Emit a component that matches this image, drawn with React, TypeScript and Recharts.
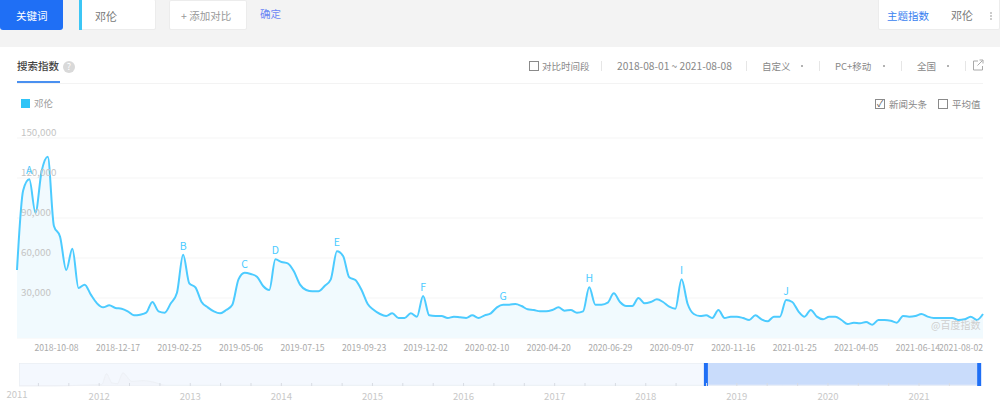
import React from 'react';
import { AreaChart, Area, XAxis, YAxis, CartesianGrid, LabelList, ReferenceArea, ReferenceLine } from 'recharts';

const FONT = '"Noto Sans CJK SC", "Noto Sans", sans-serif';

// weekly search index, in thousands
const seriesValues = [
  51, 110.7, 119, 94, 125, 136, 84, 76, 51, 67, 37.5, 40, 32.5, 26, 23, 24.5, 22.5, 22, 20, 17,
  17.5, 19, 27, 20, 19, 26, 34, 62.5, 41, 38, 27, 23, 20, 18.5, 21, 25, 44, 49, 48, 46,
  39, 36, 59, 57, 56, 50, 40, 36, 35, 35, 39, 44, 65, 61.5, 45.5, 43.5, 36, 25.5, 21, 18,
  16.5, 18.5, 15, 15, 18.5, 16, 31.5, 17, 16.5, 16.5, 15, 16, 15.5, 15, 17, 15, 17, 18.5, 23, 25,
  25, 25.5, 24, 21.5, 21, 20, 20, 21, 23, 20.5, 21, 19, 20, 38, 25, 25, 26.5, 33.5, 27, 24,
  24, 30, 26, 27, 29, 27, 23.5, 22, 44, 25.5, 18, 16.5, 17, 15, 21, 15, 16, 16, 15, 13.5,
  17, 14, 12.5, 16, 16, 28.5, 27, 20, 16, 21, 16, 14, 16, 16, 13.5, 10.5, 11.5, 11, 12, 10,
  13.5, 13.5, 13, 11.5, 16.5, 16, 16.5, 18, 16, 15, 15, 15, 15, 13.5, 14, 16, 13.5, 18,
];

const weekDates = seriesValues.map((_, i) =>
  new Date(Date.UTC(2018, 6, 30 + i * 7)).toISOString().slice(0, 10)
);

const xTicks = [
  '2018-10-08', '2018-12-17', '2019-02-25', '2019-05-06', '2019-07-15', '2019-09-23', '2019-12-02', '2020-02-10',
  '2020-04-20', '2020-06-29', '2020-09-07', '2020-11-16', '2021-01-25', '2021-04-05', '2021-06-14', '2021-08-02',
];
const yTicks = [30000, 60000, 90000, 120000, 150000];

const newsLetters = ['A', 'B', 'C', 'D', 'E', 'F', 'G', 'H', 'I', 'J'];
const newsDates = [
  '2018-08-13', '2019-02-04', '2019-04-15', '2019-05-20', '2019-07-29',
  '2019-11-04', '2020-02-03', '2020-05-11', '2020-08-24', '2020-12-21',
];

// overview strip under the chart
const overviewYears = [
  2011.12, 2011.5, 2011.8, 2011.95, 2012.03, 2012.08, 2012.14, 2012.2, 2012.26, 2012.36, 2012.48, 2012.6, 2012.72,
  2013, 2013.4, 2014, 2015, 2016, 2017, 2018, 2018.65, 2019, 2019.5, 2020, 2021, 2021.68,
];
const overviewValues = [
  0, 0, 1, 1.5, 2, 16, 4, 3, 17, 6, 7, 5, 1, 1, 1, 1, 1, 1, 1, 1, 1, 1, 1, 1, 1, 1,
];
const overviewTicks = [
  2011.12, 2011.333, 2011.667, 2012, 2012.333, 2012.667, 2013, 2013.333, 2013.667, 2014, 2014.333, 2014.667,
  2015, 2015.333, 2015.667, 2016, 2016.333, 2016.667, 2017, 2017.333, 2017.667, 2018, 2018.333, 2018.667,
  2019, 2019.333, 2019.667, 2020, 2020.333, 2020.667, 2021, 2021.333,
];

const chartData = weekDates.map((date, i) => {
  const n = newsDates.indexOf(date);
  return { date, value: seriesValues[i] * 1000, news: n >= 0 ? newsLetters[n] : undefined };
});
const overviewData = overviewYears.map((year, i) => ({ year, value: overviewValues[i] }));

const Label = ({ x, y, w, color = '#888', size = 10.5, weight = 400, children }: any) => (
  <div
    style={{
      position: 'absolute', left: x, top: y - 10, height: 20, lineHeight: '20px', width: w,
      color, fontSize: size, fontWeight: weight, whiteSpace: 'nowrap',
    }}
  >
    {children}
  </div>
);

const Box = ({ x, y, w, h, style }: any) => (
  <div style={{ position: 'absolute', left: x, top: y, width: w, height: h, boxSizing: 'border-box', ...style }} />
);

const CheckBox = ({ x, y, checked }: any) => (
  <div
    style={{
      position: 'absolute', left: x, top: y, width: 10, height: 10, boxSizing: 'border-box',
      border: '1px solid #8a8a8a', color: '#555', fontSize: 9, lineHeight: '8px', textAlign: 'center',
    }}
  >
    {checked ? '✓' : ''}
  </div>
);

const Separator = ({ x }: any) => <Box x={x} y={61} w={1} h={10} style={{ background: '#e6e6e6' }} />;
const Dot = ({ x }: any) => <Box x={x} y={65} w={2} h={2} style={{ background: '#999', borderRadius: 1 }} />;

const XTick = ({ x, y, payload }: any) => (
  <text x={x} y={y + 5} textAnchor="end" fontSize={8.6} fill="#aaa" fontFamily={FONT}>
    {payload.value}
  </text>
);

const YTick = ({ y, payload }: any) => (
  <text x={21} y={y - 2} textAnchor="start" fontSize={9.8} fill="#c4c4c4" fontFamily={FONT}>
    {payload.value.toLocaleString('en-US')}
  </text>
);

const OverviewTick = ({ x, y, payload }: any) => {
  const isYear = Number.isInteger(payload.value);
  const first = payload.value === overviewTicks[0];
  return (
    <g>
      {!first && <line x1={x} x2={x} y1={y - 3} y2={y} stroke="#d8dce3" />}
      {(isYear || first) && (
        <text x={first ? x - 2 : x} y={first ? y + 12 : y + 14} textAnchor="middle" fontSize={9.5} fill="#c8c8c8" fontFamily={FONT}>
          {Math.floor(payload.value)}
        </text>
      )}
    </g>
  );
};

const App = () => {
  return (
    <div style={{ position: 'absolute', left: 0, top: 0, width: 1000, height: 417, overflow: 'hidden', background: '#fff', fontFamily: FONT }}>
      <style>{'body{margin:0}'}</style>

      {/* top bar */}
      <Box x={0} y={0} w={1000} h={47} style={{ background: '#f3f3f3' }} />
      <Box x={0} y={-4} w={63} h={34} style={{ background: '#1f6ff5', borderRadius: 3 }} />
      <Label x={16} y={16} color="#fff" size={10.5}>关键词</Label>
      <Box x={79} y={-1} w={77} h={31} style={{ background: '#fff', border: '1px solid #ececec', borderRadius: 2 }} />
      <Box x={79} y={0} w={3} h={30} style={{ background: '#3cc6f5' }} />
      <Label x={95} y={16} color="#777" size={11}>邓伦</Label>
      <Box x={169} y={0} w={78} h={30} style={{ background: '#fff', border: '1px solid #ececec', borderRadius: 2 }} />
      <Label x={181} y={16} color="#999" size={10.5}>+ 添加对比</Label>
      <Label x={260} y={14} color="#6a86f5" size={10.5}>确定</Label>
      <Box x={878} y={-4} w={122} h={34} style={{ background: '#fff', border: '1px solid #ececec', borderRadius: 2 }} />
      <Label x={887} y={16} color="#3a7ff0" size={10.5}>主题指数</Label>
      <Label x={951} y={15} color="#777" size={11}>邓伦</Label>
      <Box x={990} y={12} w={2} h={8} style={{ borderLeft: '2px dotted #ccc' }} />

      {/* tab row */}
      <Label x={17} y={66} color="#444" size={10.5} weight={500}>搜索指数</Label>
      <div style={{ position: 'absolute', left: 63, top: 61, width: 12, height: 12, borderRadius: 6, background: '#d9d9d9', color: '#fff', fontSize: 9, lineHeight: '12px', textAlign: 'center' }}>?</div>
      <Box x={17} y={83} w={966} h={1} style={{ background: '#f3f3f3' }} />
      <Box x={17} y={81} w={43} h={2} style={{ background: '#4a90f0' }} />

      <CheckBox x={529} y={61} />
      <Label x={542} y={66} size={9.5}>对比时间段</Label>
      <Separator x={601} />
      <Label x={617} y={66} size={10.2}>2018-08-01 ~ 2021-08-08</Label>
      <Separator x={746} />
      <Label x={762} y={66} size={9.5}>自定义</Label>
      <Dot x={801} />
      <Separator x={819} />
      <Label x={835} y={66} size={9.5}>PC+移动</Label>
      <Dot x={883} />
      <Separator x={901} />
      <Label x={917} y={66} size={9.5}>全国</Label>
      <Dot x={947} />
      <Separator x={965} />
      <svg style={{ position: 'absolute', left: 972, top: 59 }} width={12} height={12} viewBox="0 0 12 12" fill="none" stroke="#aaa">
        <path d="M6 2H1.5V11H10.5V7" />
        <path d="M5.5 6.5L10.5 1.5M7.5 1H11V4.5" />
      </svg>

      {/* legend row */}
      <Box x={21} y={99} w={9} h={9} style={{ background: '#2fc4f7' }} />
      <Label x={34} y={103} color="#999" size={9.5}>邓伦</Label>
      <CheckBox x={875} y={99} checked />
      <Label x={889} y={104} color="#888" size={9.5}>新闻头条</Label>
      <CheckBox x={938} y={99} />
      <Label x={952} y={104} color="#888" size={9.5}>平均值</Label>

      {/* main chart */}
      <div style={{ position: 'absolute', left: 0, top: 0 }}>
        <AreaChart width={1000} height={417} data={chartData} margin={{ top: 138, right: 17, left: 16, bottom: 60 }}>
          <CartesianGrid horizontal vertical={false} stroke="#f5f5f5" />
          <XAxis dataKey="date" ticks={xTicks} interval={0} height={19} axisLine={false} tickLine={false} tick={<XTick />} />
          <YAxis width={1} domain={[0, 150000]} ticks={yTicks} interval={0} axisLine={false} tickLine={false} tick={<YTick />} />
          <Area type="monotone" dataKey="value" stroke="#4ccbff" strokeWidth={2} fill="#eef9fe" fillOpacity={0.85} dot={false} activeDot={false} isAnimationActive={false}>
            <LabelList dataKey="news" position="top" offset={5} fontSize={10.5} fill="#4ccbff" fontFamily={FONT} />
          </Area>
        </AreaChart>
      </div>
      <div style={{ position: 'absolute', left: 931, top: 315, height: 20, lineHeight: '20px', fontSize: 10, color: '#cfcfcf' }}>@百度指数</div>

      {/* overview strip */}
      <div style={{ position: 'absolute', left: 0, top: 363 }}>
        <AreaChart width={1000} height={54} data={overviewData} margin={{ top: 0, right: 19, left: 19, bottom: 0 }}>
          <ReferenceArea x1={2011.12} x2={2021.68} fill="#f4f8fe" fillOpacity={1} stroke="#e6e9ee" ifOverflow="hidden" />
          <ReferenceArea x1={2018.66} x2={2021.66} fill="#c9dcfb" fillOpacity={1} stroke="none" ifOverflow="hidden" />
          <XAxis dataKey="year" type="number" domain={[2011.12, 2021.68]} ticks={overviewTicks} interval={0} height={31} axisLine={false} tickLine={false} tickSize={0} tickMargin={0} tick={<OverviewTick />} />
          <YAxis hide domain={[0, 30]} />
          <Area type="monotone" dataKey="value" stroke="#eef1f6" strokeWidth={1} fill="#f0f3f8" fillOpacity={0.6} dot={false} activeDot={false} isAnimationActive={false} />
          <ReferenceLine x={2018.66} stroke="#1f6ff5" strokeWidth={4} />
          <ReferenceLine x={2021.66} stroke="#1f6ff5" strokeWidth={4} />
        </AreaChart>
      </div>
    </div>
  );
};

export default App;
